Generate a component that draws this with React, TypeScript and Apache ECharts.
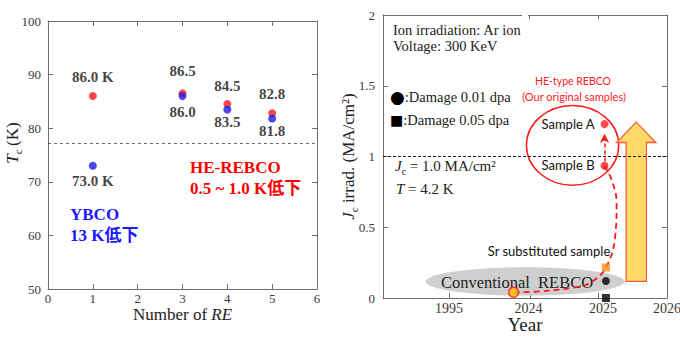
import React, { useEffect, useRef } from "react";
import * as echarts from "echarts";

// ---- Left panel data ----
const reCountX = [1, 3, 4, 5];
const tcHeRebco = [86.0, 86.5, 84.5, 82.8];
const tcYbco = [73.0, 86.0, 83.5, 81.8];
const heLabels = ["86.0 K", "86.5", "84.5", "82.8"];
const ybcoLabels = ["73.0 K", "86.0", "83.5", "81.8"];
const heLabelDist = [8, 11, 7, 8];
const ybcoLabelDist = [4, 4, 1, 1];
const ln2Line = 77.2;

// ---- Right panel data ----
const yearTickPos = [0.93, 2.07, 3.03];
const yearLabelPos = [0.93, 2.05, 3.1, 4.0];
const yearLabels = ["1995", "2024", "2025", "2026"];
const topTickPos = [2.056, 3.03];
const conventionalPt = [[1.84, 0.04]];
const srSubstitutedPt = [[3.14, 0.216]];
const damage001Pt = [[3.14, 0.12]];
const damage005Pt = [[3.14, 0.0]];
const heSamplesPts = [[3.12, 1.229], [3.12, 0.934]];
const progressPath = [
  [1.84, 0.04], [2.21, 0.047], [2.68, 0.073], [2.92, 0.108], [3.14, 0.216],
  [3.27, 0.435], [3.29, 0.673], [3.22, 0.835], [3.12, 0.934],
];
const sampleArrow = [[3.12, 0.965], [3.12, 1.16]];
const jcRefLine = 1.0;
// ellipses: [cx, cy, rx, ry]
const conventionalEllipse = [[2.0, 0.117, 1.4, 0.1]];
const heEllipse = [[2.67, 1.079, 0.65, 0.282]];
// big arrow: x, top, neck, bottom, headHalf, bodyHalf
const bigArrow = [[3.567, 1.243, 1.099, 0.117, 0.277, 0.143]];

const SERIF = '"Liberation Serif", "Times New Roman", "Noto Sans CJK JP", serif';
const SANS = 'Lato, "Noto Sans", sans-serif';
const AX = "#6e6e6e";
const LBL = "#3a3a3a";

export default function App() {
  const ref = useRef<HTMLDivElement>(null);
  useEffect(() => {
    const chart = echarts.init(ref.current!, undefined, { renderer: "svg" });
    const tickStyle = { lineStyle: { color: AX, width: 1 } };
    const axisLine = { show: true, onZero: false, lineStyle: { color: AX, width: 1 } };
    const rich = {
      i: { fontStyle: "italic", fontSize: 17, fontFamily: SERIF, color: "#222", lineHeight: 22 },
      s: { fontSize: 11, fontFamily: SERIF, color: "#222", verticalAlign: "bottom", lineHeight: 16 },
      n: { fontSize: 17, fontFamily: SERIF, color: "#222", lineHeight: 22 },
    };
    const richSmall = {
      i: { fontStyle: "italic", fontSize: 15, fontFamily: SERIF, fill: "#222", color: "#222", lineHeight: 20 },
      s: { fontSize: 10, fontFamily: SERIF, fill: "#222", color: "#222", verticalAlign: "bottom", lineHeight: 14 },
      n: { fontSize: 15, fontFamily: SERIF, fill: "#222", color: "#222", lineHeight: 20 },
    };
    const richDot = {
      b: { fontSize: 17, fontFamily: "DejaVu Sans, sans-serif", fill: "#000", color: "#000", lineHeight: 20 },
      q: { fontSize: 14, fontFamily: "DejaVu Sans, sans-serif", fill: "#000", color: "#000", lineHeight: 20 },
      n: { fontSize: 14.5, fontFamily: SERIF, fill: "#222", color: "#222", lineHeight: 20 },
    };
    const txt = (x: number, y: number, text: string, font: string, fill: string, align = "left", extra: any = {}) => ({
      type: "text",
      x,
      y,
      z: 50,
      style: {
        text, font, fill,
        align, verticalAlign: "middle",
        textAlign: align, textVerticalAlign: "middle",
        ...extra,
      },
    });

    const option: any = {
      animation: false,
      backgroundColor: "#fff",
      grid: [
        { left: 48, top: 21, width: 269, height: 268, outerBoundsMode: "none", containLabel: false },
        { left: 383, top: 15, width: 284, height: 283, outerBoundsMode: "none", containLabel: false },
      ],
      xAxis: [
        {
          gridIndex: 0, type: "value", min: 0, max: 6, interval: 1,
          name: "Number of {ii|RE}", nameLocation: "middle", nameGap: 17, nameMoveOverlap: false,
          nameTextStyle: { fontSize: 17, fontFamily: SERIF, color: "#222", rich: { ii: { fontStyle: "italic", fontSize: 17, fontFamily: SERIF, color: "#222" } } },
          axisLine, splitLine: { show: false },
          axisTick: { inside: true, length: 5, ...tickStyle },
          axisLabel: { fontSize: 13, fontFamily: SERIF, color: LBL, margin: 3 },
        },
        {
          gridIndex: 0, type: "value", min: 0, max: 6, interval: 1, position: "top",
          axisLine, splitLine: { show: false },
          axisTick: { inside: true, length: 5, ...tickStyle },
          axisLabel: { show: false },
        },
        {
          gridIndex: 1, type: "value", min: 0, max: 4,
          name: "Year", nameLocation: "middle", nameGap: 17, nameMoveOverlap: false,
          nameTextStyle: { fontSize: 19, fontFamily: SERIF, color: "#222" },
          axisLine, splitLine: { show: false },
          axisTick: { inside: true, length: 5, customValues: yearTickPos, ...tickStyle },
          axisLabel: {
            fontSize: 14, fontFamily: SERIF, color: LBL, margin: 3,
            customValues: yearLabelPos,
            formatter: (v: number) => {
              const i = yearLabelPos.findIndex((p) => Math.abs(p - v) < 1e-6);
              return i >= 0 ? yearLabels[i] : "";
            },
          },
        },
        {
          gridIndex: 1, type: "value", min: 0, max: 4, position: "top",
          axisLine, splitLine: { show: false },
          axisTick: { inside: true, length: 4, customValues: topTickPos, ...tickStyle },
          axisLabel: { show: false },
        },
      ],
      yAxis: [
        {
          gridIndex: 0, type: "value", min: 50, max: 100, interval: 10,
          name: "{i|T}{s|c} {n|(K)}", nameLocation: "middle", nameGap: 25, nameMoveOverlap: false,
          nameTextStyle: { rich, padding: [0, 0, 0, 24] },
          axisLine, splitLine: { show: false },
          axisTick: { inside: true, length: 5, ...tickStyle },
          axisLabel: { fontSize: 13, fontFamily: SERIF, color: LBL, margin: 7 },
        },
        {
          gridIndex: 0, type: "value", min: 50, max: 100, interval: 10, position: "right",
          axisLine, splitLine: { show: false },
          axisTick: { inside: true, length: 5, ...tickStyle },
          axisLabel: { show: false },
        },
        {
          gridIndex: 1, type: "value", min: 0, max: 2, interval: 0.5,
          name: "{i|J}{s|c}{n| irrad. (MA/cm²)}", nameLocation: "middle", nameGap: 24, nameMoveOverlap: false,
          nameTextStyle: { rich },
          axisLine, splitLine: { show: false },
          axisTick: { inside: true, length: 5, ...tickStyle },
          axisLabel: { fontSize: 13, fontFamily: SERIF, color: LBL, margin: 8 },
        },
        {
          gridIndex: 1, type: "value", min: 0, max: 2, interval: 0.5, position: "right",
          axisLine, splitLine: { show: false },
          axisTick: { inside: true, length: 5, ...tickStyle },
          axisLabel: { show: false },
        },
      ],
      series: [
        // ----- left panel -----
        {
          type: "scatter", xAxisIndex: 0, yAxisIndex: 0, z: 3,
          symbolSize: 8, itemStyle: { color: "#ff1a1a" },
          data: reCountX.map((x, i) => ({
            value: [x, tcHeRebco[i]],
            label: {
              show: true, position: "top", distance: heLabelDist[i],
              formatter: heLabels[i],
              fontFamily: SERIF, fontWeight: "bold", fontSize: 15, color: "#111",
            },
          })),
          markLine: {
            silent: true, symbol: "none", label: { show: false },
            lineStyle: { color: "#444", type: [3, 3], width: 0.8 },
            data: [{ yAxis: ln2Line }],
          },
        },
        {
          type: "scatter", xAxisIndex: 0, yAxisIndex: 0, z: 4,
          symbolSize: 8, itemStyle: { color: "#1a1ae6" },
          data: reCountX.map((x, i) => ({
            value: [x, tcYbco[i]],
            label: {
              show: true, position: "bottom", distance: ybcoLabelDist[i],
              formatter: ybcoLabels[i],
              fontFamily: SERIF, fontWeight: "bold", fontSize: 15, color: "#111",
            },
          })),
        },
        // ----- right panel -----
        {
          type: "custom", xAxisIndex: 2, yAxisIndex: 2, z: 1, silent: true, clip: false,
          data: conventionalEllipse,
          renderItem: (params: any, api: any) => {
            const c = api.coord([api.value(0), api.value(1)]);
            const s = api.size([api.value(2), api.value(3)]);
            return { type: "ellipse", shape: { cx: c[0], cy: c[1], rx: s[0], ry: s[1] }, style: { fill: "#cfcfcf" } };
          },
        },
        {
          type: "custom", xAxisIndex: 2, yAxisIndex: 2, z: 1, silent: true, clip: false,
          data: heEllipse,
          renderItem: (params: any, api: any) => {
            const c = api.coord([api.value(0), api.value(1)]);
            const s = api.size([api.value(2), api.value(3)]);
            return { type: "ellipse", shape: { cx: c[0], cy: c[1], rx: s[0], ry: s[1] }, style: { fill: "none", stroke: "#ff1a1a", lineWidth: 1.5 } };
          },
        },
        {
          type: "custom", xAxisIndex: 2, yAxisIndex: 2, z: 1, silent: true, clip: false,
          data: bigArrow,
          renderItem: (params: any, api: any) => {
            const x = api.value(0), top = api.value(1), neck = api.value(2), bot = api.value(3);
            const hh = api.value(4), bh = api.value(5);
            const pts = [
              [x, top], [x + hh, neck], [x + bh, neck], [x + bh, bot],
              [x - bh, bot], [x - bh, neck], [x - hh, neck],
            ].map((p) => api.coord(p));
            return { type: "polygon", shape: { points: pts }, style: { fill: "#ffd966", stroke: "#ff5a3c", lineWidth: 1.3 } };
          },
        },
        {
          type: "line", xAxisIndex: 2, yAxisIndex: 2, z: 3, smooth: 0.4, showSymbol: false, symbol: "none",
          lineStyle: { color: "#ff1a1a", width: 1.8, type: [6, 4] },
          data: progressPath,
          markLine: {
            silent: true, symbol: "none", label: { show: false },
            lineStyle: { color: "#111", type: [3, 2], width: 1 },
            data: [{ yAxis: jcRefLine }],
          },
        },
        {
          type: "line", xAxisIndex: 2, yAxisIndex: 2, z: 3, showSymbol: false, symbol: "none",
          lineStyle: { opacity: 0 }, data: [],
          markLine: {
            silent: true, symbol: ["none", "arrow"], symbolSize: [7, 9], label: { show: false },
            lineStyle: { color: "#ff1a1a", type: [4, 3], width: 1.6 },
            data: [[{ coord: sampleArrow[0] }, { coord: sampleArrow[1] }]],
          },
        },
        {
          type: "scatter", xAxisIndex: 2, yAxisIndex: 2, z: 5, clip: false,
          symbol: "circle", symbolSize: 10,
          itemStyle: { color: "#ffc000", borderColor: "#ff1a1a", borderWidth: 1.5 },
          data: conventionalPt,
        },
        {
          type: "scatter", xAxisIndex: 2, yAxisIndex: 2, z: 5, clip: false,
          symbol: "rect", symbolSize: 8, itemStyle: { color: "#ff8c1a" },
          data: srSubstitutedPt,
        },
        {
          type: "scatter", xAxisIndex: 2, yAxisIndex: 2, z: 5, clip: false,
          symbol: "circle", symbolSize: 8, itemStyle: { color: "#000" },
          data: damage001Pt,
        },
        {
          type: "scatter", xAxisIndex: 2, yAxisIndex: 2, z: 5, clip: false,
          symbol: "rect", symbolSize: 8, itemStyle: { color: "#000" },
          data: damage005Pt,
        },
        {
          type: "scatter", xAxisIndex: 2, yAxisIndex: 2, z: 5, clip: false,
          symbol: "circle", symbolSize: 8, itemStyle: { color: "#ff1a1a" },
          data: heSamplesPts,
        },
      ],
      graphic: [
        // left panel annotations
        txt(190, 167, "HE-REBCO", `bold 17px ${SERIF}`, "#ff0000"),
        txt(190, 188, "0.5 ~ 1.0 K低下", `bold 17px ${SERIF}`, "#ff0000"),
        txt(70, 214, "YBCO", `bold 17px ${SERIF}`, "#1a1aff"),
        txt(70, 235, "13 K低下", `bold 17px ${SERIF}`, "#1a1aff"),
        // right panel annotations
        { type: "rect", z: 60, shape: { x: 522, y: 12, width: 6, height: 6 }, style: { fill: "#fff" } },
        txt(393, 30, "Ion irradiation: Ar ion", `14.5px ${SERIF}`, "#222"),
        txt(393, 46, "Voltage: 300 KeV", `14.5px ${SERIF}`, "#222"),
        txt(390, 97, "{b|●}{n|:Damage 0.01 dpa}", `14.5px ${SERIF}`, "#222", "left", { rich: richDot }),
        txt(390, 120, "{q|■}{n|:Damage 0.05 dpa}", `14.5px ${SERIF}`, "#222", "left", { rich: richDot }),
        txt(395, 166, "{i|J}{s|c}{n| = 1.0 MA/cm²}", `15px ${SERIF}`, "#222", "left", { rich: richSmall }),
        txt(396, 189, "{i|T}{n| = 4.2 K}", `15px ${SERIF}`, "#222", "left", { rich: richSmall }),
        txt(573, 81, "HE-type REBCO", `10.5px ${SANS}`, "#ff1a1a", "center"),
        txt(574, 96, "(Our original samples)", `11px ${SANS}`, "#ff1a1a", "center"),
        txt(568, 124, "Sample A", `13px ${SANS}`, "#111", "center"),
        txt(568, 165, "Sample B", `13px ${SANS}`, "#111", "center"),
        txt(549, 251, "Sr substituted sample", `13px ${SANS}`, "#111", "center"),
        { ...txt(517, 282, "Conventional  REBCO", `16.5px ${SERIF}`, "#222", "center"), z: 1.5 },
      ],
    };
    chart.setOption(option);
    return () => chart.dispose();
  }, []);
  return <div ref={ref} style={{ position: "fixed", left: 0, top: 0, width: 680, height: 338, background: "#fff" }} />;
}
